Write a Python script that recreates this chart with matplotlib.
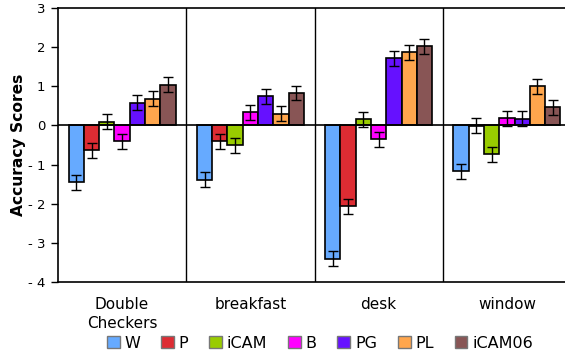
import matplotlib
matplotlib.use("Agg")
import matplotlib.pyplot as plt
import numpy as np

categories = ["Double\nCheckers", "breakfast", "desk", "window"]
series = ["W", "P", "iCAM", "B", "PG", "PL", "iCAM06"]
colors = ["#66AAFF", "#DD2C33", "#99CC00", "#FF00FF", "#6611FF", "#FFA64D", "#885555"]

W = [-1.45, -1.39, -3.41, -1.17]
P = [-0.64, -0.41, -2.07, -0.01]
iCAM = [0.10, -0.51, 0.16, -0.74]
B = [-0.40, 0.34, -0.35, 0.18]
PG = [0.58, 0.75, 1.72, 0.17]
PL = [0.68, 0.30, 1.87, 1.00]
iCAM06 = [1.04, 0.83, 2.02, 0.46]
err = [0.19, 0.19, 0.19, 0.19]

values = [W, P, iCAM, B, PG, PL, iCAM06]

plt.rcParams['font.family'] = ['DejaVu Sans']
fig = plt.figure(figsize=(5.65, 3.56), dpi=100)
ax = fig.add_axes([58/565, 1 - 282/356, (571-58)/565, (282-8)/356])

x = np.arange(len(categories))
bw = 0.119
n = len(series)
for i, (name, vals, c) in enumerate(zip(series, values, colors)):
    pos = x + (i - (n - 1) / 2) * bw
    ax.bar(pos, vals, width=bw, color=c, edgecolor="black", linewidth=1.2,
           label=name, zorder=2)
    ax.errorbar(pos, vals, yerr=err, fmt="none", ecolor="black", elinewidth=1.0,
                capsize=3.5, capthick=1.0, zorder=3)

ax.set_xlim(-0.5, len(categories) - 0.5)
ax.set_ylim(-4, 3)
ax.set_yticks(range(-4, 4))
ax.set_yticklabels([str(v).replace("-", "- ") for v in range(-4, 4)])
ax.axhline(0, color="black", linewidth=1.2, zorder=4)
for b in range(1, len(categories)):
    ax.axvline(b - 0.5, color="black", linewidth=1.0, zorder=1)

ax.set_xticks(x)
ax.set_xticklabels(categories, fontsize=11, linespacing=1.3)
ax.tick_params(axis="x", length=0, pad=11)
ax.tick_params(axis="y", direction="out", length=5, width=1, labelsize=9.5, pad=4)
for s in ax.spines.values():
    s.set_linewidth(1.2)
ax.spines["right"].set_visible(False)
ax.set_ylabel("Accuracy Scores", fontsize=11.2, fontweight="bold")
ax.yaxis.set_label_coords(-0.063, 0.5)

handles, labels = ax.get_legend_handles_labels()
leg = fig.legend(handles, labels, loc="center", ncol=7,
                 bbox_to_anchor=(320/565, 1 - 343/356), frameon=False,
                 fontsize=11.5, handlelength=0.8, handleheight=0.8,
                 handletextpad=0.3, columnspacing=1.3, borderaxespad=0)
for h in leg.legend_handles:
    h.set_edgecolor("#777777")
    h.set_linewidth(1.0)

fig.savefig("out.png", dpi=100)
